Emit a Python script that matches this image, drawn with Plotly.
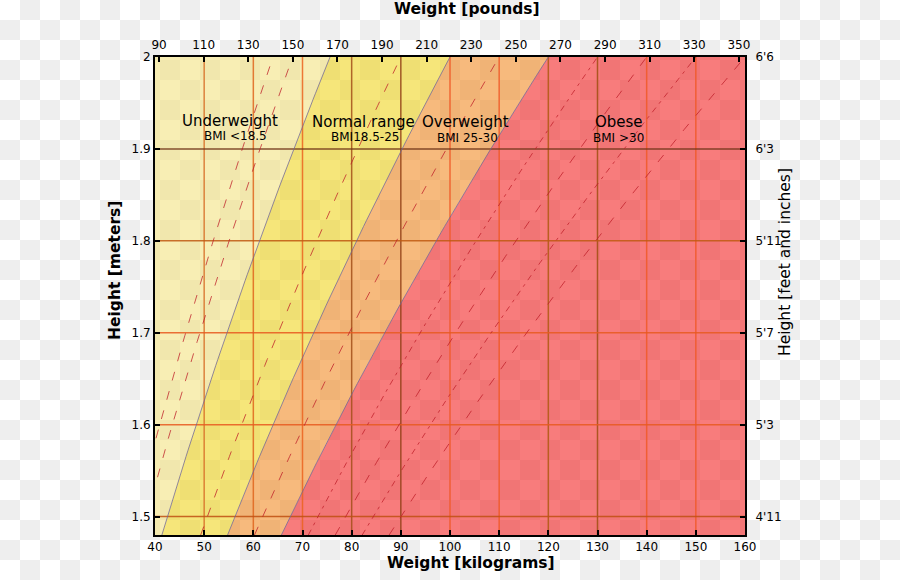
import numpy as np
import plotly.graph_objects as go

# ---------------- data ----------------
KG_PER_LB = 0.45359237
W_RANGE = [40, 160]          # kg
H_RANGE = [1.48, 2.0]        # m

region_names = ["Underweight", "Normal range", "Overweight", "Obese"]
region_subs = ["BMI <18.5", "BMI18.5-25", "BMI 25-30", "BMI >30"]
region_bounds = [18.9, 25, 30]        # BMI boundaries as drawn
label_w = [55.25, 82.4, 103.05, 134.37]
label_h = [1.9304, 1.9288, 1.9288, 1.9296]
sub_w = [56.47, 82.71, 103.46, 134.37]
sub_h = [1.9141, 1.9125, 1.9120, 1.9120]

dashed_bmi = [16, 17, 22.5, 27.5, 32.5, 35, 37.5, 40]
dashed_kind = ["dash", "dash", "dash", "dash", "dashdot", "dash", "dashdot", "dash"]

kg_ticks = list(range(40, 161, 10))
lb_ticks = list(range(90, 351, 20))
m_ticks = [1.5, 1.6, 1.7, 1.8, 1.9, 2.0]
m_labels = ["1.5", "1.6", "1.7", "1.8", "1.9", "2"]
ft_labels = ["4'11", "5'3", "5'7", "5'11", "6'3", "6'6"]

grid_kg = [50, 60, 70, 80, 90, 100, 110, 120, 130, 140, 150]
grid_m = [1.5, 1.6, 1.7, 1.8, 1.9]

# ---------------- styles ----------------
region_colors = ["rgba(243,227,130,0.6)", "rgba(240,213,33,0.6)",
                 "rgba(242,140,38,0.6)", "rgba(243,37,37,0.6)"]
grid_kg_colors = ["#d8702a", "#e0661e", "#ec6420", "#a4501a", "#934018", "#f05a28",
                  "#f05a28", "#b05a12", "#a05012", "#f05a28", "#f05a28"]
grid_m_colors = ["#c05012", "#e85a20", "#e85a20", "#c05a12", "#703418"]
FONT = "DejaVu Sans"
W, H = 900, 580
PL, PR, PT, PB = 155, 745, 57, 535

fig = go.Figure()

# checkerboard background (transparency pattern)
shapes = []
for i in range(W // 20 + 1):
    for j in range(H // 20 + 1):
        if (i + j) % 2 == 1:
            shapes.append(dict(type="rect", xref="paper", yref="paper",
                               x0=i * 20 / W, x1=(i + 1) * 20 / W,
                               y0=1 - (j + 1) * 20 / H, y1=1 - j * 20 / H,
                               fillcolor="#eeeeee", line=dict(width=0), layer="below"))

hs = np.linspace(H_RANGE[0], H_RANGE[1], 80)


def curve(bmi):
    return np.clip(bmi * hs ** 2, W_RANGE[0], W_RANGE[1])


# regions
lows = [None] + region_bounds
highs = region_bounds + [None]
for k in range(4):
    lo = np.full_like(hs, W_RANGE[0]) if lows[k] is None else curve(lows[k])
    hi = np.full_like(hs, W_RANGE[1]) if highs[k] is None else curve(highs[k])
    xs = np.concatenate([lo, hi[::-1]])
    ys = np.concatenate([hs, hs[::-1]])
    fig.add_trace(go.Scatter(x=xs, y=ys, fill="toself", fillcolor=region_colors[k],
                             mode="lines", line=dict(width=0), hoverinfo="skip",
                             showlegend=False))

# grid lines
for v, c in zip(grid_kg, grid_kg_colors):
    fig.add_trace(go.Scatter(x=[v, v], y=H_RANGE, mode="lines", line=dict(color=c, width=1.5),
                             opacity=0.85, hoverinfo="skip", showlegend=False))
for v, c in zip(grid_m, grid_m_colors):
    fig.add_trace(go.Scatter(x=W_RANGE, y=[v, v], mode="lines", line=dict(color=c, width=1.5),
                             opacity=0.85, hoverinfo="skip", showlegend=False))

# boundaries
for b in region_bounds:
    fig.add_trace(go.Scatter(x=b * hs ** 2, y=hs, mode="lines",
                             line=dict(color="rgba(110,100,150,0.75)", width=1),
                             hoverinfo="skip", showlegend=False))

# iso-BMI dashed lines
dash_map = {"dash": "9px,11px", "dashdot": "6px,5px,3px,5px"}
for b, kind in zip(dashed_bmi, dashed_kind):
    fig.add_trace(go.Scatter(x=b * hs ** 2, y=hs, mode="lines",
                             line=dict(color="rgba(190,30,40,0.75)", width=1, dash=dash_map[kind]),
                             hoverinfo="skip", showlegend=False))

# dummy trace for secondary axes
fig.add_trace(go.Scatter(x=[W_RANGE[0] / KG_PER_LB], y=[H_RANGE[0]], xaxis="x2", yaxis="y2",
                         mode="markers", marker=dict(opacity=0), hoverinfo="skip", showlegend=False))

annotations = []
for name, x, y in zip(region_names, label_w, label_h):
    annotations.append(dict(x=x, y=y, xref="x", yref="y", text=name, showarrow=False,
                            xanchor="center", yanchor="middle",
                            font=dict(family=FONT, size=15, color="black")))
for name, x, y in zip(region_subs, sub_w, sub_h):
    annotations.append(dict(x=x, y=y, xref="x", yref="y", text=name, showarrow=False,
                            xanchor="center", yanchor="middle",
                            font=dict(family=FONT, size=12, color="black")))

titles = [("<b>Weight [kilograms]</b>", 471, 563, 0),
          ("<b>Weight [pounds]</b>", 467, 9, 0),
          ("<b>Height [meters]</b>", 115, 270, -90),
          ("Height [feet and inches]", 785, 262, -90)]
for t, px, py, ang in titles:
    annotations.append(dict(x=px / W, y=1 - py / H, xref="paper", yref="paper", text=t,
                            showarrow=False, textangle=ang, xanchor="center", yanchor="middle",
                            font=dict(family=FONT, size=15.5, color="black")))

axis_common = dict(showgrid=False, zeroline=False, showline=True, linecolor="black",
                   linewidth=2, ticks="inside", tickcolor="black", ticklen=5, tickwidth=1.5,
                   tickfont=dict(family=FONT, size=12, color="black"), automargin=False,
                   fixedrange=True)

fig.update_layout(
    width=W, height=H, margin=dict(l=0, r=0, t=0, b=0), autosize=False,
    paper_bgcolor="white", plot_bgcolor="rgba(0,0,0,0)",
    shapes=shapes, annotations=annotations, showlegend=False,
    xaxis=dict(domain=[PL / W, PR / W], range=W_RANGE, tickvals=kg_ticks, anchor="y",
               **axis_common),
    xaxis2=dict(domain=[PL / W, PR / W], range=[W_RANGE[0] / KG_PER_LB, W_RANGE[1] / KG_PER_LB],
                tickvals=lb_ticks, overlaying="x", side="top", anchor="y2",
                ticklabelstandoff=1, **axis_common),
    yaxis=dict(domain=[1 - PB / H, 1 - PT / H], range=H_RANGE, tickvals=m_ticks,
               ticktext=m_labels, anchor="x", **axis_common),
    yaxis2=dict(domain=[1 - PB / H, 1 - PT / H], range=H_RANGE, tickvals=m_ticks,
                ticktext=ft_labels, overlaying="y", side="right", anchor="x2",
                ticklabelstandoff=6, **axis_common),
)

fig.write_html("out.html", config={"displayModeBar": False},
               post_script="document.body.style.margin='0';document.body.style.overflow='hidden';")
